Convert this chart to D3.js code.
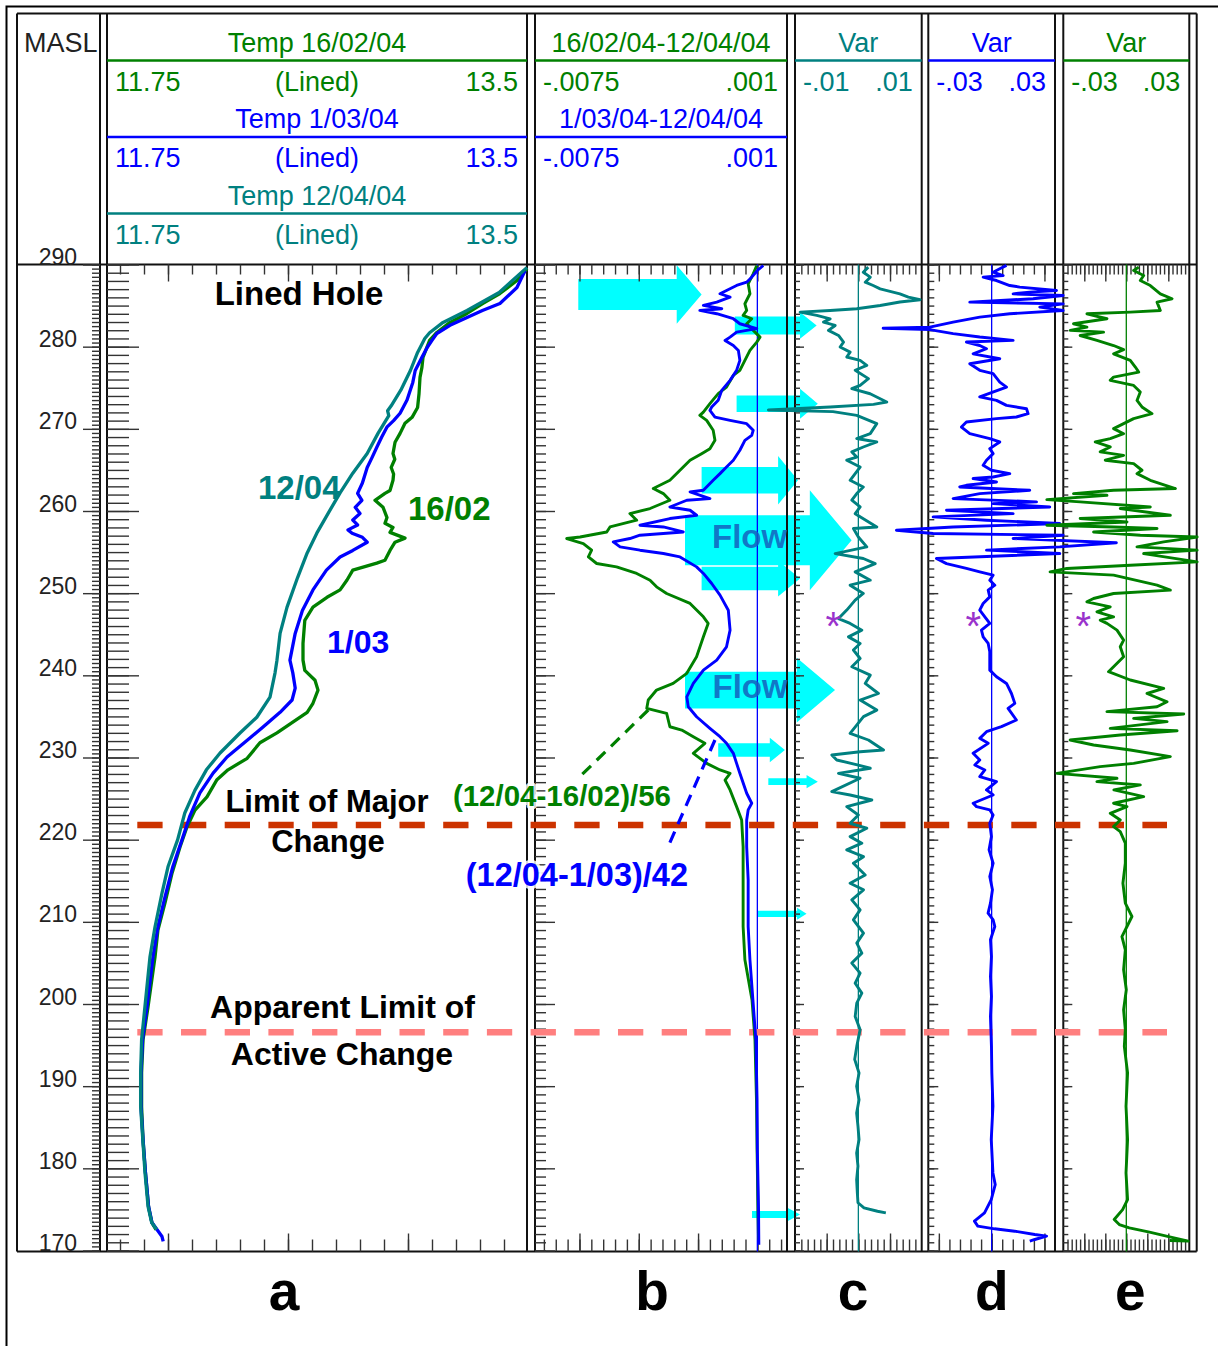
<!DOCTYPE html>
<html>
<head>
<meta charset="utf-8">
<script src="https://cdn.jsdelivr.net/npm/d3@7"></script>
<style>
  body { margin: 0; background: #fff; }
</style>
</head>
<body>
<svg id="chart"></svg>
<script>
// ---- header labels ----
const tempTitles = ['Temp 16/02/04', 'Temp 1/03/04', 'Temp 12/04/04'];
const tempRange = ['11.75', '(Lined)', '13.5'];
const diffTitles = ['16/02/04-12/04/04', '1/03/04-12/04/04'];
const diffRange = ['-.0075', '.001'];
const varRanges = [['-.01', '.01'], ['-.03', '.03'], ['-.03', '.03']];
const trackLetters = ['a', 'b', 'c', 'd', 'e'];

// ---- depth (MASL) ticks ----
const depthLabels = d3.range(170, 291, 10);
const depthMinor = d3.range(0, 121).map(i => 170 + i);
const depthHalf = d3.range(0, 241).map(i => 170 + i * 0.5);

// ---- a: temperature profiles [depth, degC] ----
const temp1602 = [[289.5,13.496],[288.05,13.454],[286.47,13.383],[285.26,13.3125],[284.04,13.246],[282.95,13.175],[281.73,13.12],[280.76,13.09],[278.7,13.0625],[277.48,13.058],[276.26,13.05],[274.3,13.046],[272.6,13.04],[271.4,13.017],[270.67,12.9875],[269.45,12.967],[268.36,12.946],[267.0,12.9375],[266.3,12.945],[265.3,12.93],[264.5,12.94],[263.74,12.9375],[262.5,12.925],[262.15,12.904],[261.3,12.8625],[260.45,12.896],[259.2,12.9125],[258.5,12.904],[258.0,12.9375],[257.4,12.925],[256.7,12.9875],[256.2,12.946],[255.2,12.925],[254.0,12.904],[253.65,12.87],[252.8,12.77],[251.6,12.746],[250.4,12.717],[249.5,12.6625],[248.3,12.604],[246.7,12.57],[243.9,12.5625],[241.85,12.5625],[240.6,12.57],[239.4,12.6125],[238.2,12.625],[236.6,12.604],[235.5,12.58],[234.3,12.52],[233.0,12.454],[231.8,12.383],[229.9,12.33],[228.5,12.25],[227.3,12.204],[225.2,12.1625],[223.6,12.1125],[221.55,12.079],[219.1,12.05],[215.95,12.017],[212.3,11.9875],[209.0,11.958],[205.75,11.946],[199.7,11.917],[195.65,11.896],[191.6,11.89],[187.5,11.89],[183.5,11.896],[179.5,11.906],[175.35,11.919],[173.4,11.933],[172.55,11.95]];
const temp0103 = [[289.27,13.488],[287.2,13.454],[285.26,13.383],[284.4,13.31],[283.56,13.246],[282.6,13.175],[281.6,13.12],[280.76,13.10],[279.9,13.08],[278.7,13.058],[277.1,13.03],[275.65,13.02],[273.5,12.996],[271.9,12.967],[271.0,12.94],[270.2,12.912],[268.97,12.89],[267.75,12.87],[266.5,12.85],[265.3,12.83],[263.4,12.81],[262.15,12.79],[261.3,12.808],[260.45,12.78],[259.7,12.80],[258.9,12.77],[258.3,12.79],[257.7,12.75],[257.3,12.767],[256.8,12.81],[256.2,12.83],[255.2,12.77],[254.4,12.717],[252.8,12.66],[250.4,12.604],[247.9,12.56],[245.1,12.53],[241.85,12.508],[240.3,12.52],[238.45,12.53],[237.0,12.517],[235.5,12.467],[233.7,12.396],[232.1,12.33],[230.06,12.246],[228.1,12.188],[225.7,12.133],[222.8,12.09],[219.97,12.058],[216.7,12.02],[213.04,11.9875],[209.4,11.958],[205.75,11.9375],[199.7,11.9125],[195.65,11.894],[191.6,11.8875],[187.5,11.8875],[183.5,11.896],[179.5,11.906],[175.35,11.919],[173.4,11.933],[172.55,11.954],[171.7,11.975],[171.1,11.98]];
const temp1204 = [[289.64,13.496],[286.6,13.38],[284.4,13.246],[282.95,13.146],[281.7,13.09],[281.0,13.07],[279.3,13.04],[277.1,13.01],[274.7,12.97],[272.8,12.93],[272.2,12.915],[271.6,12.92],[269.45,12.875],[267.0,12.83],[264.6,12.77],[262.2,12.717],[260.1,12.675],[257.3,12.62],[254.9,12.58],[251.9,12.54],[248.3,12.496],[245.1,12.467],[241.85,12.454],[240.3,12.446],[237.35,12.425],[234.9,12.37],[232.98,12.30],[230.55,12.217],[228.5,12.16],[226.0,12.112],[223.25,12.07],[219.97,12.04],[216.7,12.0],[213.5,11.975],[209.4,11.946],[205.75,11.925],[199.7,11.904],[195.65,11.89],[191.6,11.886],[187.5,11.886],[183.5,11.895],[179.5,11.904],[175.35,11.917],[173.4,11.932],[172.55,11.953]];

// ---- b: differences [depth, value] ----
const diff1602 = [[289.88,-0.00002],[288.87,-0.00014],[287.65,-0.00031],[286.44,-0.00025],[285.22,-0.00042],[284.41,-0.00036],[283.8,-0.00048],[283.4,-0.00019],[282.79,-0.00036],[281.16,0.00009],[280.55,-0.00002],[279.54,-0.00025],[278.33,-0.00042],[277.11,-0.00059],[276.5,-0.00081],[275.08,-0.00104],[274.28,-0.00132],[273.06,-0.0016],[272.04,-0.00182],[271.64,-0.00194],[271.03,-0.00171],[269.82,-0.00149],[268.6,-0.00143],[267.59,-0.0016],[266.98,-0.00188],[266.17,-0.00227],[264.95,-0.00261],[263.74,-0.00295],[262.73,-0.00351],[262.12,-0.00317],[261.31,-0.00295],[260.3,-0.00362],[259.69,-0.0043],[258.88,-0.00407],[258.06,-0.00497],[257.45,-0.00508],[256.84,-0.00598],[256.65,-0.00643],[256.04,-0.00587],[255.23,-0.00559],[254.41,-0.0057],[253.61,-0.00542],[253.2,-0.00475],[252.4,-0.00407],[251.58,-0.00362],[250.77,-0.0034],[249.96,-0.00306],[248.75,-0.00227],[247.12,-0.00182],[246.32,-0.00166],[244.69,-0.00182],[242.26,-0.00205],[240.24,-0.00238],[239.02,-0.00284],[238.21,-0.0034],[237.0,-0.00368],[235.98,-0.00373],[235.37,-0.00306],[233.74,-0.00295],[233.34,-0.00255],[232.53,-0.00216],[231.73,-0.00177],[230.51,-0.00216],[229.29,-0.00171],[228.48,-0.00126],[228.08,-0.00092],[227.26,-0.00109],[226.05,-0.00092],[224.02,-0.0007],[222.4,-0.00053],[219.15,-0.00048],[215.1,-0.00048],[209.43,-0.00048],[205.38,-0.00042],[200.5,-0.00018],[195.65,-0.00008],[188.4,-0.00003],[182.3,-0.00001],[175.0,0.00002],[171.3,0.00004]];
const diff0103 = [[289.88,0.0002],[289.27,0.0],[288.46,-0.00019],[287.85,-0.00036],[287.45,-0.0007],[286.84,-0.00104],[286.44,-0.00126],[286.02,-0.00092],[285.42,-0.00137],[285.02,-0.00182],[284.61,-0.0012],[284.41,-0.00194],[284.01,-0.00137],[283.4,-0.00081],[282.79,-0.00059],[282.2,-0.00002],[281.77,-0.0007],[281.16,-0.00092],[280.76,-0.00109],[280.15,-0.00081],[279.54,-0.00064],[278.33,-0.00059],[277.11,-0.0007],[275.9,-0.00092],[274.68,-0.0012],[273.47,-0.00132],[272.65,-0.00154],[272.25,-0.0016],[271.43,-0.00143],[271.03,-0.00092],[270.63,-0.00036],[269.82,-0.00014],[269.21,-0.00019],[268.6,-0.00042],[267.39,-0.00059],[266.17,-0.00081],[265.36,-0.00104],[264.55,-0.00126],[263.74,-0.00149],[262.52,-0.00182],[262.32,-0.00227],[261.51,-0.0016],[261.31,-0.00238],[260.49,-0.00295],[260.09,-0.00227],[259.48,-0.00205],[259.08,-0.00295],[258.27,-0.00396],[258.06,-0.00317],[257.45,-0.0025],[257.05,-0.00396],[256.65,-0.0043],[256.24,-0.00486],[255.63,-0.00463],[255.23,-0.00396],[254.83,-0.00317],[254.41,-0.00261],[253.2,-0.00205],[252.4,-0.00182],[251.18,-0.00154],[249.76,-0.00126],[247.93,-0.00098],[245.5,-0.00092],[243.47,-0.00104],[241.85,-0.00137],[240.64,-0.00182],[239.02,-0.00216],[237.39,-0.00238],[236.18,-0.00233],[234.96,-0.00205],[233.55,-0.0016],[232.53,-0.00126],[231.73,-0.00104],[230.51,-0.00081],[229.29,-0.0007],[228.08,-0.00059],[225.65,-0.00036],[224.43,-0.00019],[223.62,-0.00031],[222.4,-0.00036],[219.15,-0.00036],[215.1,-0.00031],[209.43,-0.00031],[205.38,-0.00025],[200.5,-0.00015],[195.65,-0.00005],[188.4,-0.00001],[182.3,0.0],[175.0,0.00004],[170.7,0.00005]];

// ---- c, d, e: variance logs [depth, value] ----
const varC = [[289.68,0.00156],[289.06,0.00078],[288.46,0.00188],[287.85,0.00109],[287.44,0.00234],[287.04,0.00344],[286.43,0.00656],[286.04,0.0079],[285.71,0.00975],[285.43,0.00656],[285.01,0.00344],[284.61,-0.00025],[284.41,-0.00445],[284.2,-0.00919],[283.8,-0.00656],[283.38,-0.00445],[282.99,-0.0055],[282.58,-0.00366],[281.98,-0.00472],[281.36,-0.00313],[280.56,-0.00234],[279.96,-0.00288],[279.34,-0.0013],[278.74,-0.00183],[278.33,0.00028],[277.73,0.00133],[277.13,-0.0005],[276.11,0.00159],[275.28,0.00028],[274.89,-0.00103],[274.27,0.00186],[273.26,0.00448],[272.98,0.00239],[272.66,-0.00445],[272.3,-0.0142],[272.1,-0.004],[271.64,-0.00025],[270.63,0.00291],[269.42,0.00188],[268.82,-0.00025],[268.4,0.00291],[267.79,0.00078],[267.19,-0.00103],[266.57,-0.00025],[266.18,-0.00183],[265.35,0.00028],[264.55,-0.0005],[263.74,-0.0013],[262.92,0.00078],[262.12,-0.00025],[261.31,-0.00103],[260.49,0.00028],[259.67,-0.0005],[258.06,0.00291],[257.87,-0.00078],[256.84,0],[255.63,0.00133],[254.82,-0.00366],[254.22,0.00078],[253.6,0.00266],[252.59,-0.0005],[251.58,0.00188],[250.97,-0.0013],[249.96,0.00078],[249.16,-0.0005],[247.94,-0.00183],[246.91,-0.00313],[246.32,-0.0013],[245.5,0.00055],[244.68,-0.00156],[243.88,0.00028],[243.08,-0.00078],[242.05,0.00028],[241.05,-0.00103],[240.02,0.00188],[239.01,0.00108],[237.79,0.00317],[236.99,0.00028],[235.77,0.00291],[234.97,0.00081],[232.93,-0.0013],[232.13,0.00159],[230.91,0.00397],[230.7,0.00028],[230.31,-0.00419],[229.7,-0.00341],[229.08,0],[228.69,0.00188],[228.07,-0.00314],[227.47,0.00028],[225.84,-0.00419],[225.44,-0.0013],[224.83,0.00213],[224.02,-0.00183],[223.0,0],[221.99,-0.0013],[221.39,0.00133],[220.37,-0.0013],[219.57,0.00055],[218.76,-0.00183],[217.93,0.00081],[217.13,-0.00078],[215.71,0.00108],[214.7,-0.0013],[213.9,0.00081],[212.68,-0.00103],[211.46,0.00028],[210.24,-0.00078],[208.62,0.00081],[207.41,-0.00025],[206.19,0.00055],[204.98,-0.00103],[203.76,0.00028],[202.53,-0.0005],[201.32,0.00055],[200.11,-0.00025],[198.49,-0.0005],[196.88,0.00028],[194.84,-0.00025],[193.26,-0.00058],[191.6,0.00011],[189.98,-0.00027],[188.36,0.00011],[186.73,-0.00027],[185.13,-0.00006],[183.5,0.00011],[181.86,-0.00027],[180.26,-0.00006],[178.63,-0.00027],[177.01,-0.00016],[175.81,-0.00006],[175.19,0.00089],[174.78,0.00302],[174.58,0.00434]];
const varD = [[289.89,0.00703],[289.48,0.00384],[289.06,0.0007],[288.66,0.00544],[288.46,-0.00403],[288.05,0.0023],[287.44,0.00858],[287.25,0.01331],[286.84,0.03071],[286.64,0.01805],[286.43,0.01017],[286.22,0.03385],[285.83,0.01964],[285.42,-0.01036],[285.21,0.03385],[284.82,0.02278],[284.41,0.03385],[284.0,0.00858],[283.6,-0.00563],[282.99,-0.01824],[282.38,-0.0293],[282.25,-0.05138],[282.07,-0.0293],[281.58,-0.01824],[281.17,-0.00563],[280.76,0.01017],[280.56,-0.01196],[280.14,-0.00563],[279.75,-0.00244],[279.13,-0.00877],[278.53,0.00384],[277.92,-0.01036],[277.12,-0.00563],[276.71,0.0007],[275.69,0.00384],[275.08,0.00703],[273.88,-0.00563],[273.46,0.0023],[272.85,0.00703],[272.45,0.0165],[271.84,0.01725],[271.44,0.01172],[271.24,0.0023],[270.83,-0.01196],[270.21,-0.0143],[269.41,-0.01036],[268.81,-0.00089],[268.4,0.00384],[267.59,-0.00089],[266.98,0.0007],[266.18,-0.00244],[265.56,-0.00403],[264.96,-0.00009],[264.55,0.00858],[264.14,0.0007],[263.95,-0.00877],[263.53,0.0023],[263.13,-0.01196],[262.92,-0.0151],[262.52,0.01805],[262.12,-0.00563],[261.51,-0.01824],[261.11,0.02124],[260.9,0.0007],[260.49,0.02752],[260.1,-0.02138],[259.68,0.01017],[259.28,-0.02771],[258.88,-0.00244],[258.47,0.03226],[258.06,-0.01824],[257.66,-0.0451],[257.26,-0.02771],[257.05,0.03385],[256.65,0.01017],[256.13,0.05907],[255.63,0.03226],[255.24,-0.00244],[254.82,0.03226],[254.22,-0.02616],[253.6,-0.02138],[253.01,-0.01196],[252.59,-0.00563],[252.19,0.0007],[251.58,-0.00089],[250.97,0.0015],[250.37,-0.00164],[249.55,-0.00089],[248.74,-0.00403],[247.94,-0.00563],[247.12,-0.00323],[246.32,-0.00089],[245.5,-0.00483],[244.68,-0.00403],[243.88,-0.00164],[242.87,-0.00089],[240.63,-0.00089],[239.83,0.0023],[239.01,0.00703],[237.79,0.00938],[236.59,0.01097],[235.98,0.00778],[234.56,0.01172],[233.75,0.00464],[233.14,-0.00244],[232.33,-0.00563],[231.72,-0.00164],[230.51,-0.00877],[229.7,-0.00563],[229.08,-0.00797],[228.48,-0.00323],[227.67,-0.00563],[227.06,0.0023],[226.05,-0.00244],[225.44,0.0007],[224.43,-0.00877],[224.02,-0.00717],[223.62,-0.00089],[223.0,0.0007],[221.99,-0.00089],[220.37,-0.00009],[218.76,-0.00122],[217.13,0.0007],[215.51,-0.00089],[213.9,0.00038],[212.27,-0.00056],[211.05,-0.00169],[210.24,0.0007],[209.43,0.0015],[207.82,-0.00056],[205.78,-0.00009],[203.35,-0.00056],[200.93,-0.00009],[198.49,-0.00056],[194.84,-0.00009],[191.6,0.00009],[187.55,0.00061],[183.5,-0.00019],[179.44,0.00061],[178.02,0.00169],[176.2,-0.00019],[174.58,-0.00338],[173.57,-0.00816],[172.97,-0.00656],[172.64,0.00141],[172.35,0.01092],[171.95,0.02044],[171.75,0.02602],[171.34,0.02044],[171.14,0.01805]];
const varE = [[289.68,0.0059],[289.27,0.0035],[288.66,0.00827],[288.05,0.00666],[287.44,0.01143],[286.43,0.0162],[285.83,0.02178],[285.42,0.01464],[284.41,0.0162],[284.2,0.00189],[284.0,-0.01875],[283.4,-0.00921],[282.79,-0.02513],[282.38,-0.01875],[281.98,-0.02669],[281.77,-0.01082],[281.36,-0.02197],[280.76,-0.01398],[280.14,-0.00605],[279.63,-0.00128],[279.13,-0.00605],[278.33,0.00189],[277.52,0.0043],[276.91,0.0059],[276.3,-0.00605],[275.9,-0.00765],[275.28,0.0035],[274.48,0.00666],[273.46,0.0051],[272.66,0.00746],[271.84,0.01223],[271.24,0.0035],[270.63,-0.00128],[270.03,-0.00605],[269.41,-0.00128],[268.81,-0.00765],[268.4,-0.01479],[267.79,-0.00765],[267.19,-0.01242],[266.77,-0.00128],[266.18,-0.01001],[265.76,0.0035],[264.96,0.00746],[264.55,0.0051],[263.74,0.01143],[262.73,0.02338],[262.52,-0.00605],[262.12,-0.02513],[261.91,-0.00921],[261.38,-0.03784],[261.11,-0.02197],[260.49,0.01143],[260.3,-0.00288],[259.48,0.02097],[259.09,-0.02197],[258.67,0.00033],[258.27,-0.03784],[258.06,-0.00605],[257.87,0.01464],[257.45,-0.01559],[257.05,0.00666],[256.84,0.03373],[256.25,0.01781],[255.63,0.0051],[255.24,0.03373],[254.82,0.00827],[253.81,0.03373],[253.4,0.00189],[253.01,-0.0283],[252.59,-0.03628],[252.19,-0.00605],[250.97,0.01464],[250.37,0.02097],[249.96,-0.00605],[249.35,-0.01559],[248.95,-0.01875],[248.34,-0.00765],[247.73,-0.01398],[247.12,-0.00605],[246.72,-0.01242],[246.32,-0.00921],[245.5,-0.00444],[244.29,-0.00128],[243.48,-0.00288],[242.26,-0.00128],[240.44,-0.00846],[239.43,0.00189],[238.42,0.01781],[237.79,0.00987],[236.78,0.01941],[236.18,0.01464],[235.58,-0.00921],[235.3,0.02735],[234.76,0.0035],[234.36,0.01941],[233.55,-0.00765],[233.26,0.02419],[232.73,-0.00288],[232.13,-0.02674],[231.52,-0.01559],[230.91,0.00189],[230.11,0.02097],[229.29,0.0035],[228.89,-0.01242],[228.07,-0.03307],[227.47,-0.00444],[227.06,-0.01398],[226.66,0.00666],[226.05,-0.0059],[225.24,0.00827],[224.43,-0.00605],[224.02,0.00033],[223.21,-0.00765],[222.4,-0.00288],[221.59,-0.00605],[220.98,-0.00288],[219.57,-0.00047],[217.13,-0.00047],[214.7,-0.00161],[212.27,-0.00047],[210.65,0.00269],[209.43,0.00033],[208.21,-0.00208],[206.6,-0.00047],[204.17,-0.00128],[201.74,0],[199.3,-0.00128],[196.88,-0.00047],[194.84,-0.00094],[191.6,0.00061],[187.55,-0.00014],[183.5,0.00061],[179.44,-0.00014],[176.2,0.00061],[174.98,-0.00175],[173.77,-0.00576],[173.16,-0.00335],[172.76,0.00142],[172.23,0.01105],[171.66,0.02064],[171.14,0.02948],[171.21,0.02064]];

// ---- flow arrows (depth m, tail/neck/tip in track-b units, half widths in m) ----
const flowArrows = [
  {depth: 286.35, tail: -0.00604, neck: -0.00272, tip: -0.00188, body: 1.88, head: 3.55},
  {depth: 282.58, tail: -0.00076, neck: 0.00144, tip: 0.0020, body: 1.1, head: 1.62},
  {depth: 273.06, tail: -0.0007, neck: 0.00144, tip: 0.00204, body: 1.0, head: 1.82},
  {depth: 263.74, tail: -0.00188, neck: 0.0007, tip: 0.00137, body: 1.62, head: 2.94},
  {depth: 256.44, tail: -0.00244, neck: 0.00177, tip: 0.00318, body: 3.04, head: 6.08},
  {depth: 251.79, tail: -0.00188, neck: 0.0007, tip: 0.00144, body: 1.42, head: 2.2},
  {depth: 238.2, tail: -0.00244, neck: 0.00133, tip: 0.00262, body: 2.23, head: 3.95},
  {depth: 230.91, tail: -0.00132, neck: 0.00042, tip: 0.00093, body: 0.81, head: 1.48},
  {depth: 227.06, tail: 0.00037, neck: 0.00166, tip: 0.00204, body: 0.4, head: 0.81},
  {depth: 210.97, tail: 0.0, neck: 0.00134, tip: 0.00166, body: 0.37, head: 0.73},
  {depth: 174.38, tail: -0.00018, neck: 0.00103, tip: 0.00144, body: 0.43, head: 0.79}
];
const majorChangeDepth = 221.8;
const activeChangeDepth = 196.55;
const markerDepth = 247.1;

// ---- layout ----
const W = 1218, H = 1346;
const TOP = 13.5, HEAD = 264.5, BOTTOM = 1251.5, LEFT = 17, RIGHT = 1196.7;
const GREEN = '#008000', BLUE = '#0000ff', TEAL = '#008080', CYAN = '#00ffff';
const FONT = '"Liberation Sans", Arial, sans-serif';

const tracks = {
  depth: {x0: 17, x1: 100},
  a: {x0: 107, x1: 527},
  b: {x0: 535, x1: 787},
  c: {x0: 795, x1: 921.7},
  d: {x0: 928.3, x1: 1055},
  e: {x0: 1063.3, x1: 1189.3}
};

const y = d3.scaleLinear().domain([290, 170]).range([264.5, 1250.5]);
const xa = d3.scaleLinear().domain([11.75, 13.5]).range([108, 528]);
const xb = d3.scaleLinear().domain([-0.0075, 0.001]).range([535, 787]);
const xc = d3.scaleLinear().domain([-0.01, 0.01]).range([795, 921.7]);
const xd = d3.scaleLinear().domain([-0.03, 0.03]).range([928.3, 1055]);
const xe = d3.scaleLinear().domain([-0.03, 0.03]).range([1063.3, 1189.3]);

const svg = d3.select('#chart')
  .attr('width', W)
  .attr('height', H)
  .style('font-family', FONT);

svg.append('rect').attr('width', W).attr('height', H).attr('fill', '#fff');

const gArrows = svg.append('g');
const gFrame = svg.append('g');
const gLimits = svg.append('g');
const gTraces = svg.append('g');
const gText = svg.append('g');

// outer frame (top and left only)
gFrame.append('path')
  .attr('d', `M6.5,${H}L6.5,6.5L${W},6.5`)
  .attr('fill', 'none')
  .attr('stroke', '#000')
  .attr('stroke-width', 2);

// flow arrows, under everything else
gArrows.selectAll('path')
  .data(flowArrows)
  .join('path')
  .attr('d', a => {
    const yc = y(a.depth);
    const bt = y(a.depth + a.body), bb = y(a.depth - a.body);
    const ht = y(a.depth + a.head), hb = y(a.depth - a.head);
    const x0 = xb(a.tail), xn = xb(a.neck), xt = xb(a.tip);
    return `M${x0},${bt}L${xn},${bt}L${xn},${ht}L${xt},${yc}L${xn},${hb}L${xn},${bb}L${x0},${bb}Z`;
  })
  .attr('fill', CYAN);

// track borders
const vx = [];
Object.values(tracks).forEach(t => { vx.push(t.x0, t.x1); });
vx.push(RIGHT);
gFrame.selectAll('line.v')
  .data(vx)
  .join('line')
  .attr('class', 'v')
  .attr('x1', d => d).attr('x2', d => d)
  .attr('y1', TOP).attr('y2', BOTTOM)
  .attr('stroke', '#111')
  .attr('stroke-width', 2);

gFrame.selectAll('line.h')
  .data([TOP, HEAD, BOTTOM])
  .join('line')
  .attr('class', 'h')
  .attr('x1', LEFT).attr('x2', RIGHT)
  .attr('y1', d => d).attr('y2', d => d)
  .attr('stroke', '#111')
  .attr('stroke-width', 2);

function styleAxis(g) {
  g.select('.domain').remove();
  g.attr('color', '#333');
  g.selectAll('.tick line').attr('stroke-width', 1.4);
}

// depth axis in the MASL column
const depthAxisG = gFrame.append('g').attr('transform', `translate(${tracks.depth.x1},0)`);
depthAxisG.append('g')
  .call(d3.axisLeft(y).tickValues(depthHalf).tickSize(8).tickFormat(''))
  .call(styleAxis);
depthAxisG.append('g')
  .call(d3.axisLeft(y).tickValues(depthLabels).tickSize(17).tickPadding(6).tickFormat(d3.format('d')))
  .call(styleAxis)
  .call(g => g.selectAll('text')
    .attr('dy', 0)
    .attr('font-size', 23)
    .attr('font-family', FONT)
    .attr('fill', '#222'));

// depth ticks on the left edge of each log track
function edgeTicks(x0, minorLen, majorLen) {
  const g = gFrame.append('g').attr('transform', `translate(${x0},0)`);
  g.append('g').call(d3.axisRight(y).tickValues(depthMinor).tickSize(minorLen).tickFormat('')).call(styleAxis);
  g.append('g').call(d3.axisRight(y).tickValues(depthLabels).tickSize(majorLen).tickFormat('')).call(styleAxis);
}
edgeTicks(tracks.a.x0, 22, 32);
edgeTicks(tracks.b.x0, 11, 20);
edgeTicks(tracks.c.x0, 5, 9);
edgeTicks(tracks.d.x0, 6, 10);
edgeTicks(tracks.e.x0, 5, 9);

// value ticks at top and bottom of each track
function valueTicks(scale, minor, major) {
  const top = gFrame.append('g').attr('transform', `translate(0,${HEAD})`);
  top.append('g').call(d3.axisBottom(scale).tickValues(minor).tickSize(10).tickFormat('')).call(styleAxis);
  top.append('g').call(d3.axisBottom(scale).tickValues(major).tickSize(17).tickFormat('')).call(styleAxis);
  const bot = gFrame.append('g').attr('transform', `translate(0,${BOTTOM})`);
  bot.append('g').call(d3.axisTop(scale).tickValues(minor).tickSize(12).tickFormat('')).call(styleAxis);
  bot.append('g').call(d3.axisTop(scale).tickValues(major).tickSize(18).tickFormat('')).call(styleAxis);
}
valueTicks(xa, d3.range(118, 135).map(i => i / 10), [12, 12.5, 13]);
valueTicks(xb, d3.range(-18, 3).map(i => i * 0.0004), [-0.006, -0.004, -0.002, 0]);
valueTicks(xc, d3.range(-9, 10).map(i => i / 1000), [-0.005, 0, 0.005]);
valueTicks(xd, d3.range(-5, 6).map(i => i * 0.005), [-0.025, 0, 0.025]);
valueTicks(xe, d3.range(-14, 15).map(i => i * 0.002), [-0.02, -0.01, 0, 0.01, 0.02]);

// zero lines
[[xb, BLUE], [xc, TEAL], [xd, BLUE], [xe, GREEN]].forEach(([s, c]) => {
  gFrame.append('line')
    .attr('x1', s(0)).attr('x2', s(0))
    .attr('y1', HEAD).attr('y2', BOTTOM)
    .attr('stroke', c)
    .attr('stroke-width', 1.3);
});

// ---- header ----
const ROW = 76.5;
function headerText(x, yy, txt, color, anchor) {
  gText.append('text')
    .attr('x', x).attr('y', yy)
    .attr('text-anchor', anchor)
    .attr('font-size', 27)
    .attr('fill', color)
    .text(txt);
}
function headerRule(t, yy, color) {
  gFrame.append('line')
    .attr('x1', t.x0).attr('x2', t.x1)
    .attr('y1', yy).attr('y2', yy)
    .attr('stroke', color)
    .attr('stroke-width', 2.5);
}

headerText(24, 51.7, 'MASL', '#222', 'start');

[GREEN, BLUE, TEAL].forEach((c, i) => {
  const t = tracks.a, off = i * ROW;
  headerText((t.x0 + t.x1) / 2, 51.7 + off, tempTitles[i], c, 'middle');
  headerRule(t, 60.5 + off, c);
  headerText(t.x0 + 8, 90.7 + off, tempRange[0], c, 'start');
  headerText((t.x0 + t.x1) / 2, 90.7 + off, tempRange[1], c, 'middle');
  headerText(t.x1 - 9, 90.7 + off, tempRange[2], c, 'end');
});

[GREEN, BLUE].forEach((c, i) => {
  const t = tracks.b, off = i * ROW;
  headerText((t.x0 + t.x1) / 2, 51.7 + off, diffTitles[i], c, 'middle');
  headerRule(t, 60.5 + off, c);
  headerText(t.x0 + 8, 90.7 + off, diffRange[0], c, 'start');
  headerText(t.x1 - 9, 90.7 + off, diffRange[1], c, 'end');
});

[[tracks.c, TEAL], [tracks.d, BLUE], [tracks.e, GREEN]].forEach(([t, c], i) => {
  headerText((t.x0 + t.x1) / 2, 51.7, 'Var', c, 'middle');
  headerRule(t, 60.5, c);
  headerText(t.x0 + 8, 90.7, varRanges[i][0], c, 'start');
  headerText(t.x1 - 9, 90.7, varRanges[i][1], c, 'end');
});

// ---- limit lines ----
[[majorChangeDepth, '#cc3300'], [activeChangeDepth, '#ff7f7f']].forEach(([dep, c]) => {
  gLimits.append('line')
    .attr('x1', 137.3).attr('x2', 1167)
    .attr('y1', y(dep)).attr('y2', y(dep))
    .attr('stroke', c)
    .attr('stroke-width', 6.5)
    .attr('stroke-dasharray', '25.3,18.4');
});

// ---- traces ----
function trace(data, xs, color, width) {
  gTraces.append('path')
    .datum(data)
    .attr('d', d3.line().x(d => xs(d[1])).y(d => y(d[0])))
    .attr('fill', 'none')
    .attr('stroke', color)
    .attr('stroke-width', width)
    .attr('stroke-linejoin', 'round');
}
trace(temp1602, xa, GREEN, 3.3);
trace(temp0103, xa, BLUE, 3.3);
trace(temp1204, xa, TEAL, 3.3);
trace(diff1602, xb, GREEN, 2.9);
trace(diff0103, xb, BLUE, 2.9);
trace(varC, xc, TEAL, 2.9);
trace(varD, xd, BLUE, 2.9);
trace(varE, xe, GREEN, 2.9);

// dashed leaders in track b
[[[235.78, -0.00368], [227.87, -0.00593], GREEN], [[232.13, -0.00143], [218.75, -0.00306], BLUE]].forEach(([p, q, c]) => {
  gTraces.append('line')
    .attr('x1', xb(p[1])).attr('y1', y(p[0]))
    .attr('x2', xb(q[1])).attr('y2', y(q[0]))
    .attr('stroke', c)
    .attr('stroke-width', 3.2)
    .attr('stroke-dasharray', '12,8');
});

// ---- annotation text ----
function bold(x, yy, txt, color, size, anchor, halo) {
  const t = gText.append('text')
    .attr('x', x).attr('y', yy)
    .attr('text-anchor', anchor)
    .attr('font-size', size)
    .attr('font-weight', 'bold')
    .attr('fill', color)
    .text(txt);
  if (halo) {
    t.attr('stroke', '#fff').attr('stroke-width', 6).attr('stroke-opacity', 0.85)
      .attr('paint-order', 'stroke').attr('stroke-linejoin', 'round');
  }
  return t;
}
bold(299, 305, 'Lined Hole', '#000', 33, 'middle');
bold(258, 499.3, '12/04', TEAL, 33, 'start');
bold(408, 520, '16/02', GREEN, 33, 'start');
bold(327, 653, '1/03', BLUE, 32, 'start');
bold(327, 811.7, 'Limit of Major', '#000', 31, 'middle');
bold(328, 851.7, 'Change', '#000', 31, 'middle');
bold(671, 806, '(12/04-16/02)/56', GREEN, 29.5, 'end', true);
bold(688, 886, '(12/04-1/03)/42', BLUE, 32.5, 'end', true);
bold(342.5, 1018.3, 'Apparent Limit of', '#000', 32, 'middle');
bold(342, 1065, 'Active Change', '#000', 32, 'middle');
bold(712, 548.3, 'Flow', '#1560bd', 33, 'start').attr('fill-opacity', 0.85);
bold(712.5, 698.3, 'Flow', '#1560bd', 33, 'start').attr('fill-opacity', 0.85);

// markers
[833.3, 973.3, 1083.3].forEach(xm => {
  gText.append('text')
    .attr('x', xm).attr('y', y(markerDepth) + 23)
    .attr('text-anchor', 'middle')
    .attr('font-size', 40)
    .attr('fill', '#9933cc')
    .text('*');
});

// track letters
[284, 652, 853, 991.7, 1130.3].forEach((cx, i) => {
  bold(cx, 1310, trackLetters[i], '#000', 55, 'middle');
});
</script>
</body>
</html>
